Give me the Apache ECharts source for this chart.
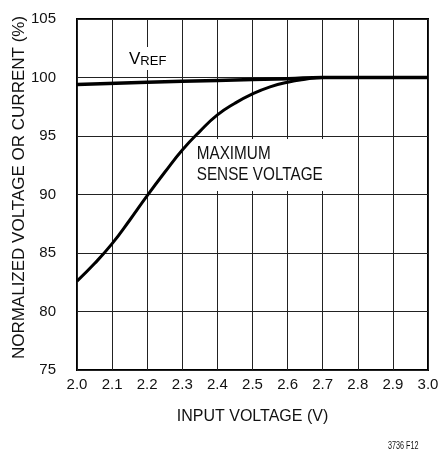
<!DOCTYPE html>
<html>
<head>
<meta charset="utf-8">
<script src="https://cdn.jsdelivr.net/npm/echarts@6/dist/echarts.min.js"></script>
<style>
  html, body { margin: 0; padding: 0; background: #fff; }
  #chart { width: 440px; height: 452px; }
</style>
</head>
<body>
<div id="chart"></div>
<script>
  // input voltage (V) sample points
  const senseVoltage = [2.0, 2.05, 2.1, 2.15, 2.2, 2.25, 2.3, 2.35, 2.4, 2.45, 2.5, 2.55, 2.6, 2.65, 2.7, 2.8, 2.9, 3.0];
  const senseValues = [82.6, 84.1, 85.8, 87.8, 89.9, 91.9, 93.8, 95.4, 96.8, 97.8, 98.6, 99.2, 99.6, 99.85, 100, 100, 100, 100];

  const vrefVoltage = [2.0, 2.2, 2.4, 2.6, 2.7, 2.8, 2.9, 3.0];
  const vrefValues = [99.4, 99.6, 99.75, 99.9, 100, 100, 100, 100];

  const xTicks = [2.0, 2.1, 2.2, 2.3, 2.4, 2.5, 2.6, 2.7, 2.8, 2.9, 3.0];
  const yTicks = [75, 80, 85, 90, 95, 100, 105];

  const font = "'Liberation Sans', Arial, sans-serif";
  const ink = "#111";

  const chart = echarts.init(document.getElementById("chart"), null, { renderer: "canvas" });

  const pairs = (xs, ys) => xs.map((x, i) => [x, ys[i]]);

  chart.setOption({
    animation: false,
    backgroundColor: "#fff",
    grid: {
      left: 77,
      right: 12,
      top: 19,
      bottom: 82,
      show: true,
      borderColor: "#000",
      borderWidth: 2,
      containLabel: false,
      outerBoundsMode: "none",
    },
    xAxis: {
      type: "value",
      min: xTicks[0],
      max: xTicks[xTicks.length - 1],
      interval: 0.1,
      name: "INPUT VOLTAGE (V)",
      nameLocation: "middle",
      nameGap: 39,
      nameMoveOverlap: false,
      nameTextStyle: { fontFamily: font, fontSize: 16, color: ink },
      axisLine: { show: false },
      axisTick: { show: false },
      axisLabel: {
        margin: 7,
        fontFamily: font,
        fontSize: 15,
        color: ink,
        formatter: (v) => v.toFixed(1),
      },
      splitLine: { show: true, lineStyle: { color: "#222", width: 1 } },
    },
    yAxis: {
      type: "value",
      min: yTicks[0],
      max: yTicks[yTicks.length - 1],
      interval: 5,
      name: "NORMALIZED VOLTAGE OR CURRENT (%)",
      nameLocation: "middle",
      nameGap: 49,
      nameMoveOverlap: false,
      nameTextStyle: { fontFamily: font, fontSize: 17, color: ink, padding: [0, 0, 0, 14] },
      axisLine: { show: false },
      axisTick: { show: false },
      axisLabel: {
        margin: 21,
        fontFamily: font,
        fontSize: 15,
        color: ink,
      },
      splitLine: { show: true, lineStyle: { color: "#222", width: 1 } },
    },
    series: [
      {
        name: "VREF",
        type: "line",
        smooth: true,
        symbol: "none",
        lineStyle: { color: "#000", width: 3.5 },
        data: pairs(vrefVoltage, vrefValues),
        z: 3,
      },
      {
        name: "MAXIMUM SENSE VOLTAGE",
        type: "line",
        smooth: true,
        symbol: "none",
        lineStyle: { color: "#000", width: 3 },
        data: pairs(senseVoltage, senseValues),
        z: 3,
      },
    ],
    graphic: [
      {
        type: "text",
        x: 123,
        y: 47,
        z: 10,
        style: {
          text: "{v|V}{s|REF}",
          backgroundColor: "#fff",
          padding: [2, 6, 2, 6],
          rich: {
            v: { fontFamily: font, fontSize: 17, color: ink, verticalAlign: "bottom" },
            s: { fontFamily: font, fontSize: 13, color: ink, padding: [6, 0, 0, 0] },
          },
        },
      },
      {
        type: "text",
        x: 195,
        y: 139,
        scaleX: 0.85,
        z: 10,
        style: {
          text: "MAXIMUM\nSENSE VOLTAGE",
          fontFamily: font,
          fontSize: 18,
          lineHeight: 21,
          fill: ink,
          backgroundColor: "#fff",
          padding: [5, 10, 5, 2],
        },
      },
      {
        type: "text",
        x: 388,
        y: 441,
        scaleX: 0.72,
        style: {
          text: "3736 F12",
          fontFamily: font,
          fontSize: 10,
          fill: ink,
        },
      },
    ],
  });
</script>
</body>
</html>
